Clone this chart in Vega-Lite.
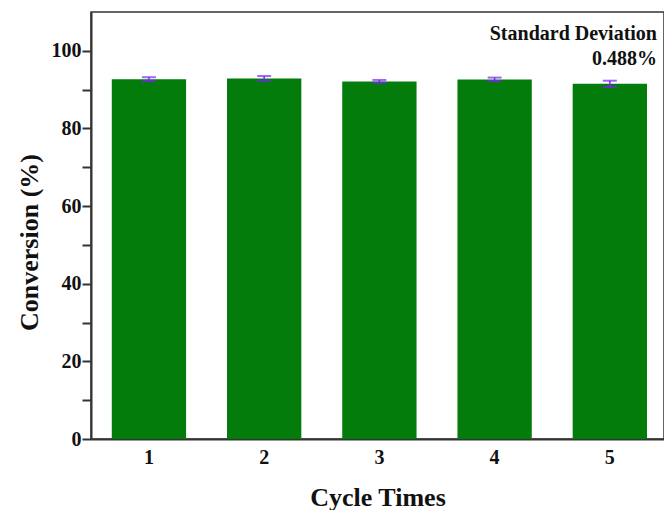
{
  "$schema": "https://vega.github.io/schema/vega-lite/v6.json",
  "autosize": "none",
  "padding": {"left": 91, "top": 12, "right": 0, "bottom": 71},
  "width": 573,
  "height": 427,
  "background": "white",
  "config": {
    "view": {"stroke": "#333333", "strokeWidth": 1.5},
    "font": "Liberation Serif",
    "title": {"font": "Liberation Serif", "fontWeight": "bold", "fontSize": 20},
    "style": {"group-title": {"font": "Liberation Serif", "fontWeight": "bold"}}
  },
  "title": {
    "text": ["Standard Deviation", "0.488%"],
    "anchor": "end",
    "frame": "group",
    "orient": "top",
    "baseline": "top",
    "offset": -57,
    "dx": -7,
    "align": "right",
    "lineHeight": 25,
    "font": "Liberation Serif, Times New Roman, serif",
    "fontSize": 20,
    "fontWeight": "bold",
    "color": "#111111"
  },
  "data": {
    "values": [
      {"cycle": "1", "conversion": 92.7, "lo": 92.2, "hi": 93.2},
      {"cycle": "2", "conversion": 92.9, "lo": 92.3, "hi": 93.5},
      {"cycle": "3", "conversion": 92.1, "lo": 91.8, "hi": 92.5},
      {"cycle": "4", "conversion": 92.6, "lo": 92.2, "hi": 93.1},
      {"cycle": "5", "conversion": 91.5, "lo": 90.7, "hi": 92.3}
    ]
  },
  "encoding": {
    "x": {
      "field": "cycle",
      "type": "nominal",
      "scale": {"paddingInner": 0.355, "paddingOuter": 0.164, "align": 0.55},
      "axis": {
        "title": "Cycle Times",
        "labelAngle": 0,
        "ticks": false,
        "domainColor": "#333333",
        "domainWidth": 2,
        "labelFont": "Liberation Serif",
        "labelFontSize": 20,
        "labelFontWeight": "bold",
        "labelColor": "#111111",
        "labelPadding": 8,
        "titleFont": "Liberation Serif",
        "titleFontSize": 26,
        "titleFontWeight": "bold",
        "titleColor": "#111111",
        "titleBaseline": "middle",
        "titleY": 58
      }
    }
  },
  "layer": [
    {
      "mark": {"type": "bar", "color": "#037c0c"},
      "encoding": {
        "y": {
          "field": "conversion",
          "type": "quantitative",
          "scale": {"domain": [0, 110], "nice": false},
          "axis": {
            "title": "Conversion (%)",
            "values": [0, 10, 20, 30, 40, 50, 60, 70, 80, 90, 100],
            "labelExpr": "datum.value % 20 === 0 ? datum.label : ''",
            "grid": false,
            "ticks": true,
            "tickSize": 9,
            "tickColor": "#333333",
            "tickWidth": 2,
            "domainColor": "#333333",
            "domainWidth": 2,
            "labelFont": "Liberation Serif",
            "labelFontSize": 20,
            "labelFontWeight": "bold",
            "labelColor": "#111111",
            "labelPadding": 1,
            "titleFont": "Liberation Serif",
            "titleFontSize": 26,
            "titleFontWeight": "bold",
            "titleColor": "#111111",
            "titleBaseline": "middle",
            "titleAlign": "center",
            "titleX": -62,
            "titleY": 230,
            "encode": {
              "ticks": {
                "update": {
                  "x2": {"signal": "datum.value % 20 === 0 ? 9 : 5"}
                }
              }
            }
          }
        }
      }
    },
    {
      "mark": {"type": "rule", "color": "#8020ff", "strokeWidth": 1.5},
      "encoding": {
        "y": {"field": "lo", "type": "quantitative"},
        "y2": {"field": "hi"}
      }
    },
    {
      "mark": {"type": "tick", "color": "#8020ff", "size": 14, "thickness": 2},
      "encoding": {
        "y": {"field": "lo", "type": "quantitative"}
      }
    },
    {
      "mark": {"type": "tick", "color": "#8020ff", "size": 14, "thickness": 2},
      "encoding": {
        "y": {"field": "hi", "type": "quantitative"}
      }
    }
  ]
}
